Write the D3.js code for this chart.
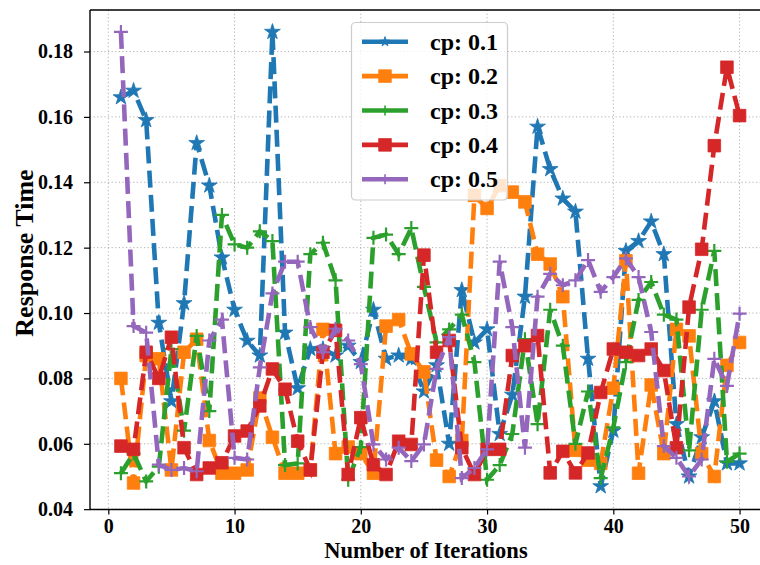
<!DOCTYPE html>
<html>
<head>
<meta charset="utf-8">
<script src="https://cdn.jsdelivr.net/npm/d3@7"></script>
<style>
  html, body { margin: 0; padding: 0; background: #fff; }
  svg { display: block; }
  svg text { font-family: "Liberation Serif", "Times New Roman", serif !important; font-weight: bold; }
</style>
</head>
<body>
<svg id="chart" width="760" height="565"></svg>
<script>
// ---------- data ----------
const iterations = [1,2,3,4,5,6,7,8,9,10,11,12,13,14,15,16,17,18,19,20,21,22,23,24,25,26,27,28,29,30,31,32,33,34,35,36,37,38,39,40,41,42,43,44,45,46,47,48,49,50];
const cp01 = [0.166,0.168,0.159,0.097,0.073,0.103,0.152,0.139,0.117,0.101,0.0915,0.087,0.186,0.094,0.077,0.089,0.089,0.087,0.090,0.085,0.101,0.086,0.087,0.086,0.076,0.084,0.060,0.107,0.091,0.095,0.063,0.075,0.105,0.157,0.144,0.135,0.131,0.086,0.047,0.064,0.119,0.122,0.128,0.118,0.066,0.050,0.062,0.073,0.054,0.054];
const cp02 = [0.080,0.048,0.087,0.086,0.052,0.088,0.092,0.061,0.051,0.051,0.052,0.074,0.062,0.051,0.051,0.052,0.095,0.057,0.059,0.057,0.051,0.096,0.098,0.0875,0.082,0.055,0.050,0.061,0.136,0.132,0.139,0.137,0.134,0.118,0.115,0.105,0.058,0.055,0.054,0.077,0.116,0.051,0.078,0.057,0.095,0.093,0.057,0.050,0.084,0.091];
const cp03 = [0.051,0.057,0.0485,0.053,0.089,0.064,0.093,0.070,0.130,0.121,0.120,0.125,0.122,0.0535,0.054,0.118,0.1215,0.110,0.049,0.059,0.123,0.124,0.118,0.126,0.108,0.091,0.095,0.0995,0.085,0.049,0.0535,0.063,0.092,0.066,0.101,0.090,0.060,0.076,0.0495,0.065,0.085,0.104,0.1095,0.0995,0.098,0.058,0.101,0.119,0.0545,0.057];
const cp04 = [0.0593,0.0583,0.088,0.080,0.0926,0.0588,0.0506,0.0526,0.0542,0.0624,0.0639,0.0716,0.0829,0.0767,0.0608,0.052,0.088,0.0947,0.0506,0.068,0.0536,0.0506,0.0608,0.0598,0.1177,0.088,0.0916,0.0588,0.0506,0.0583,0.0583,0.087,0.090,0.0931,0.0511,0.0577,0.0511,0.0572,0.0757,0.089,0.088,0.087,0.089,0.0824,0.0588,0.1018,0.1195,0.1512,0.1752,0.1604];
const cp05 = [0.186,0.096,0.094,0.0536,0.052,0.0526,0.0516,0.0916,0.098,0.0557,0.0552,0.0834,0.106,0.1157,0.1157,0.0957,0.088,0.0952,0.0916,0.0844,0.0598,0.0552,0.0588,0.0547,0.0598,0.0829,0.0926,0.0495,0.0526,0.0583,0.1157,0.0957,0.0588,0.105,0.112,0.1085,0.110,0.1162,0.1065,0.111,0.1167,0.111,0.0942,0.0593,0.0557,0.050,0.0552,0.086,0.0777,0.0998];

const seriesNames = ["cp: 0.1","cp: 0.2","cp: 0.3","cp: 0.4","cp: 0.5"];
const seriesValues = [cp01, cp02, cp03, cp04, cp05];
const seriesColors = ["#1f77b4","#ff7f0e","#2ca02c","#d62728","#9467bd"];
const seriesMarkers = ["star","square","plus","square","plus"];
const xTicks = [0,10,20,30,40,50];
const yTicks = [0.04,0.06,0.08,0.10,0.12,0.14,0.16,0.18];
const xLabel = "Number of Iterations";
const yLabel = "Response Time";

// ---------- layout ----------
const FONT = "'Liberation Serif', 'Times New Roman', serif";
const svg = d3.select("#chart");
const L = 90, R = 770.5, T = 10, B = 509.5;
const x = d3.scaleLinear().domain([-1.45, 52.45]).range([L, R]);
const y = d3.scaleLinear().domain([0.0399, 0.1927]).range([B, T]);

// grid
const grid = svg.append("g");
grid.selectAll("line.gx").data(xTicks).join("line")
  .attr("x1", d => x(d)).attr("x2", d => x(d)).attr("y1", T).attr("y2", B)
  .attr("stroke", "#b0b0b0").attr("stroke-width", 1).attr("stroke-dasharray", "1.2,2.4");
grid.selectAll("line.gy").data(yTicks).join("line")
  .attr("x1", L).attr("x2", R).attr("y1", d => y(d)).attr("y2", d => y(d))
  .attr("stroke", "#b0b0b0").attr("stroke-width", 1).attr("stroke-dasharray", "1.2,2.4");

// clip
svg.append("clipPath").attr("id", "clip").append("rect")
  .attr("x", L).attr("y", T).attr("width", R - L).attr("height", B - T);

const line = d3.line().x((d, i) => x(iterations[i])).y(d => y(d));

function markerPath(type) {
  if (type === "plus") return "M-7,0H7M0,-7V7";
  if (type === "square") return "M-6.3,-6.3H6.3V6.3H-6.3Z";
  return d3.symbol(d3.symbolStar, 78)();
}

const plot = svg.append("g").attr("clip-path", "url(#clip)");
seriesValues.forEach((vals, s) => {
  const g = plot.append("g");
  g.append("path").datum(vals)
    .attr("d", line)
    .attr("fill", "none")
    .attr("stroke", seriesColors[s])
    .attr("stroke-width", 4.6)
    .attr("stroke-dasharray", "17,7.2");
  g.selectAll("path.m").data(vals).join("path")
    .attr("class", "m")
    .attr("transform", (d, i) => `translate(${x(iterations[i])},${y(d)})`)
    .attr("d", markerPath(seriesMarkers[s]))
    .attr("fill", seriesMarkers[s] === "plus" ? "none" : seriesColors[s])
    .attr("stroke", seriesColors[s])
    .attr("stroke-width", seriesMarkers[s] === "plus" ? 2.2 : 0.8);
});

// axes
const xAxis = d3.axisBottom(x).tickValues(xTicks).tickFormat(d3.format("d")).tickSize(5).tickPadding(4);
const yAxis = d3.axisLeft(y).tickValues(yTicks).tickFormat(d3.format(".2f")).tickSize(6).tickPadding(11);
const gx = svg.append("g").attr("transform", `translate(0,${B})`).call(xAxis);
const gy = svg.append("g").attr("transform", `translate(${L},0)`).call(yAxis);
[gx, gy].forEach(g => {
  g.attr("font-family", FONT).attr("font-size", 20).attr("font-weight", "bold");
  g.select(".domain").remove();
  g.selectAll(".tick line").attr("stroke", "#000").attr("stroke-width", 1.2);
  g.selectAll(".tick text").attr("fill", "#000")
    .attr("font-family", FONT).attr("font-weight", "bold").attr("font-size", 20);
});

// spines
svg.append("line").attr("x1", L).attr("x2", L).attr("y1", T).attr("y2", B).attr("stroke", "#000").attr("stroke-width", 1.4);
svg.append("line").attr("x1", L).attr("x2", R).attr("y1", B).attr("y2", B).attr("stroke", "#000").attr("stroke-width", 1.4);
svg.append("line").attr("x1", L).attr("x2", R).attr("y1", T).attr("y2", T).attr("stroke", "#000").attr("stroke-width", 1.4);

// axis labels
svg.append("text").attr("x", 426).attr("y", 558).attr("text-anchor", "middle")
  .attr("font-family", FONT).attr("font-size", 22.5).attr("fill", "#000").text(xLabel);
svg.append("text").attr("transform", "translate(33,253) rotate(-90)").attr("text-anchor", "middle")
  .attr("font-family", FONT).attr("font-size", 26).attr("fill", "#000").text(yLabel);

// legend
const lg = svg.append("g");
lg.append("rect").attr("x", 351.5).attr("y", 22.5).attr("width", 156).attr("height", 177.5)
  .attr("rx", 4).attr("fill", "#fff").attr("fill-opacity", 0.8).attr("stroke", "#ccc").attr("stroke-width", 1.2);
seriesNames.forEach((name, s) => {
  const cy = 41.7 + s * 34.4;
  lg.append("line").attr("x1", 362).attr("x2", 408).attr("y1", cy).attr("y2", cy)
    .attr("stroke", seriesColors[s]).attr("stroke-width", 4.6);
  const mt = seriesMarkers[s];
  lg.append("path").attr("transform", `translate(385,${cy})`)
    .attr("d", mt === "plus" ? "M-5,0H5M0,-5V5" : mt === "square" ? markerPath("square") : d3.symbol(d3.symbolStar, 30)())
    .attr("fill", mt === "plus" ? "none" : seriesColors[s])
    .attr("stroke", seriesColors[s]).attr("stroke-width", mt === "plus" ? 1.6 : 0.8);
  lg.append("text").attr("x", 430).attr("y", cy + 8)
    .attr("font-family", FONT).attr("font-size", 24).attr("fill", "#000").text(name);
});
</script>
</body>
</html>
